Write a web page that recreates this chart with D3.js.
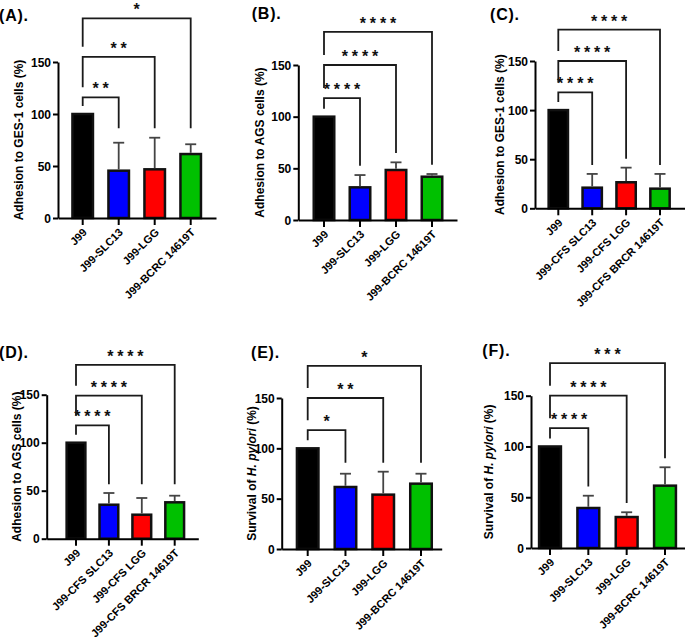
<!DOCTYPE html>
<html>
<head>
<meta charset="utf-8">
<script src="https://cdnjs.cloudflare.com/ajax/libs/d3/7.8.5/d3.min.js"></script>
<style>
body { margin: 0; background: #fff; }
svg { font-family: "Liberation Sans", Arial, Helvetica, sans-serif; font-weight: bold; }
</style>
</head>
<body>
<div id="chart"></div>
<script>
var w = 685;
var h = 638;

// groups and colours
var groupsLab = ["J99", "J99-SLC13", "J99-LGG", "J99-BCRC 14619T"];
var groupsCFS = ["J99", "J99-CFS SLC13", "J99-CFS LGG", "J99-CFS BRCR 14619T"];
var barColors = ["#000000", "#0000ff", "#ff0000", "#00c000"];
var yTicks = [0, 50, 100, 150];

// (A) adhesion GES-1
var meanA = [100, 45.5, 46.8, 61.5];
var sdA = [0, 26.9, 30.4, 9.4];
var starsA = ["**", "**", "*"];
var bracketA = [116, 155, 192];

// (B) adhesion AGS
var meanB = [100, 31.6, 48.4, 41.9];
var sdB = [0, 11.9, 7.4, 2.6];
var starsB = ["****", "****", "****"];
var bracketB = [118, 150, 182];

// (C) adhesion GES-1, CFS
var meanC = [100, 21, 26.5, 20];
var sdC = [0, 14, 14.9, 15];
var starsC = ["****", "****", "****"];
var bracketC = [118, 150, 182];

// (D) adhesion AGS, CFS
var meanD = [100, 35.4, 25, 37.9];
var sdD = [0, 12.2, 17.4, 6.9];
var starsD = ["****", "****", "****"];
var bracketD = [118, 149, 181];

// (E) survival
var meanE = [100, 61.6, 54, 64.9];
var sdE = [0, 13.2, 22.8, 9.9];
var starsE = ["*", "**", "*"];
var bracketE = [118, 150, 182];

// (F) survival
var meanF = [100, 39.4, 30.5, 61.4];
var sdF = [0, 12.1, 4.7, 18.1];
var starsF = ["****", "****", "***"];
var bracketF = [118, 150, 182];

var panels = [
  { tag: "(A).", cats: groupsLab, mean: meanA, sd: sdA, stars: starsA, br: bracketA, legs: "max",
    ytitle: ["Adhesion to GES-1 cells (%)"],
    axisX: 58, xEnd: 216, c0: 82.7, c3: 190.7, y0: 218, yTop: 62, lx: -1, ly: 21, ytx: 18.3 },
  { tag: "(B).", cats: groupsLab, mean: meanB, sd: sdB, stars: starsB, br: bracketB, legs: "each",
    ytitle: ["Adhesion to AGS cells (%)"],
    axisX: 298.3, xEnd: 457, c0: 324, c3: 432, y0: 220, yTop: 65, lx: 251.7, ly: 19, ytx: 260 },
  { tag: "(C).", cats: groupsCFS, mean: meanC, sd: sdC, stars: starsC, br: bracketC, legs: "each",
    ytitle: ["Adhesion to GES-1 cells (%)"],
    axisX: 535, xEnd: 686, c0: 558.3, c3: 660, y0: 208.3, yTop: 61, lx: 490, ly: 20, ytx: 500 },
  { tag: "(D).", cats: groupsCFS, mean: meanD, sd: sdD, stars: starsD, br: bracketD, legs: "max",
    ytitle: ["Adhesion to AGS cells (%)"],
    axisX: 46.7, xEnd: 198.3, c0: 76, c3: 174.7, y0: 538.7, yTop: 394.7, lx: -1, ly: 358, ytx: 16.7 },
  { tag: "(E).", cats: groupsLab, mean: meanE, sd: sdE, stars: starsE, br: bracketE, legs: "max",
    ytitle: ["Survival of ", "H. pylori", " (%)"],
    axisX: 281.7, xEnd: 441.7, c0: 307.7, c3: 421, y0: 549, yTop: 398, lx: 251, ly: 358, ytx: 251.7 },
  { tag: "(F).", cats: groupsLab, mean: meanF, sd: sdF, stars: starsF, br: bracketF, legs: "each",
    ytitle: ["Survival of ", "H. pylori", " (%)"],
    axisX: 531, xEnd: 686, c0: 550, c3: 665, y0: 548, yTop: 395.7, lx: 482.3, ly: 356, ytx: 488.3 }
];

var svg = d3.select("#chart")
            .append("svg")
            .attr("width", w)
            .attr("height", h);

svg.append("rect").attr("width", w).attr("height", h).attr("fill", "#fff");

panels.forEach(function(p) {
  var g = svg.append("g");
  var n = p.cats.length;
  var pi = 0.43;
  var step = (p.c3 - p.c0) / (n - 1);
  var po = ((p.xEnd - p.axisX) / step - n + pi) / 2;
  var start = p.c0 - step * (1 - pi) / 2;
  var align = (start - p.axisX) / (p.xEnd - p.axisX - step * (n - pi));

  var x = d3.scaleBand()
            .domain(p.cats)
            .range([p.axisX, p.xEnd])
            .paddingInner(pi)
            .paddingOuter(po)
            .align(align);
  var y = d3.scaleLinear()
            .domain([0, 150])
            .range([p.y0, p.yTop]);
  var cx = function(i) { return x(p.cats[i]) + x.bandwidth() / 2; };

  // bars
  g.selectAll("rect.bar")
   .data(p.mean)
   .enter()
   .append("rect")
   .attr("class", "bar")
   .attr("x", function(d, i) { return x(p.cats[i]); })
   .attr("y", function(d) { return y(d); })
   .attr("width", x.bandwidth())
   .attr("height", function(d) { return y(0) - y(d); })
   .attr("fill", function(d, i) { return barColors[i]; })
   .attr("stroke", "#111")
   .attr("stroke-width", 2.5);

  // error bars (upper only)
  var eb = g.selectAll("g.err")
            .data(p.mean.map(function(d, i) { return { m: d, s: p.sd[i], i: i }; }).filter(function(d) { return d.s > 0; }))
            .enter()
            .append("g")
            .attr("class", "err")
            .attr("stroke", "#444")
            .attr("stroke-width", 1.8);
  eb.append("line")
    .attr("x1", function(d) { return cx(d.i); })
    .attr("x2", function(d) { return cx(d.i); })
    .attr("y1", function(d) { return y(d.m) - 1.2; })
    .attr("y2", function(d) { return y(d.m + d.s); });
  eb.append("line")
    .attr("x1", function(d) { return cx(d.i) - 5.5; })
    .attr("x2", function(d) { return cx(d.i) + 5.5; })
    .attr("y1", function(d) { return y(d.m + d.s); })
    .attr("y2", function(d) { return y(d.m + d.s); });

  // axes
  var ya = g.append("g")
            .attr("transform", "translate(" + p.axisX + ",0)")
            .call(d3.axisLeft(y).tickValues(yTicks).tickSize(5).tickSizeOuter(0).tickPadding(2));
  var xa = g.append("g")
            .attr("transform", "translate(0," + p.y0 + ")")
            .call(d3.axisBottom(x).tickSize(7).tickSizeOuter(0));
  [ya, xa].forEach(function(a) {
    a.select(".domain").attr("stroke", "#000").attr("stroke-width", 2);
    a.selectAll(".tick line").attr("stroke", "#000").attr("stroke-width", 2);
    a.selectAll("text").attr("fill", "#000").style("font-weight", "bold").attr("font-family", null);
  });
  ya.selectAll("text").attr("font-size", 12).attr("dy", "0.35em");
  xa.selectAll("text")
    .attr("font-size", 11)
    .attr("x", 0).attr("y", 0).attr("dy", 0)
    .attr("text-anchor", "end")
    .attr("transform", "translate(5,15) rotate(-45)");

  // significance brackets
  var tops = p.mean.map(function(d, i) { return d + p.sd[i]; });
  var maxTop = d3.max(tops.slice(1));
  p.stars.forEach(function(s, k) {
    var j = k + 1;
    var top = y(p.br[k]);
    var leftEnd = k === 0 ? y(p.mean[0]) - 8 : y(p.br[k - 1]) - 10;
    var rightEnd = y((p.legs === "max" ? maxTop : tops[j]) + 9);
    g.append("path")
     .attr("d", "M" + cx(0) + "," + leftEnd + "V" + top + "H" + cx(j) + "V" + rightEnd)
     .attr("fill", "none")
     .attr("stroke", "#1a1a1a")
     .attr("stroke-width", 1.8);
    g.append("text")
     .attr("x", (cx(0) + cx(j)) / 2)
     .attr("y", top - 3)
     .attr("dx", 1.9)
     .attr("text-anchor", "middle")
     .attr("font-size", 16)
     .attr("letter-spacing", "3.8px")
     .attr("fill", "#111")
     .text(s);
  });

  // y axis title
  var yt = g.append("text")
            .attr("transform", "translate(" + (p.ytx + 4.3) + "," + ((p.y0 + p.yTop) / 2) + ") rotate(-90)")
            .attr("text-anchor", "middle")
            .attr("font-size", 12)
            .attr("fill", "#000");
  p.ytitle.forEach(function(t, i) {
    yt.append("tspan").text(t).attr("font-style", i === 1 ? "italic" : null);
  });

  // panel tag
  g.append("text")
   .attr("x", p.lx)
   .attr("y", p.ly)
   .attr("font-size", 16)
   .attr("letter-spacing", "0.8px")
   .attr("fill", "#000")
   .text(p.tag);
});
</script>
</body>
</html>
